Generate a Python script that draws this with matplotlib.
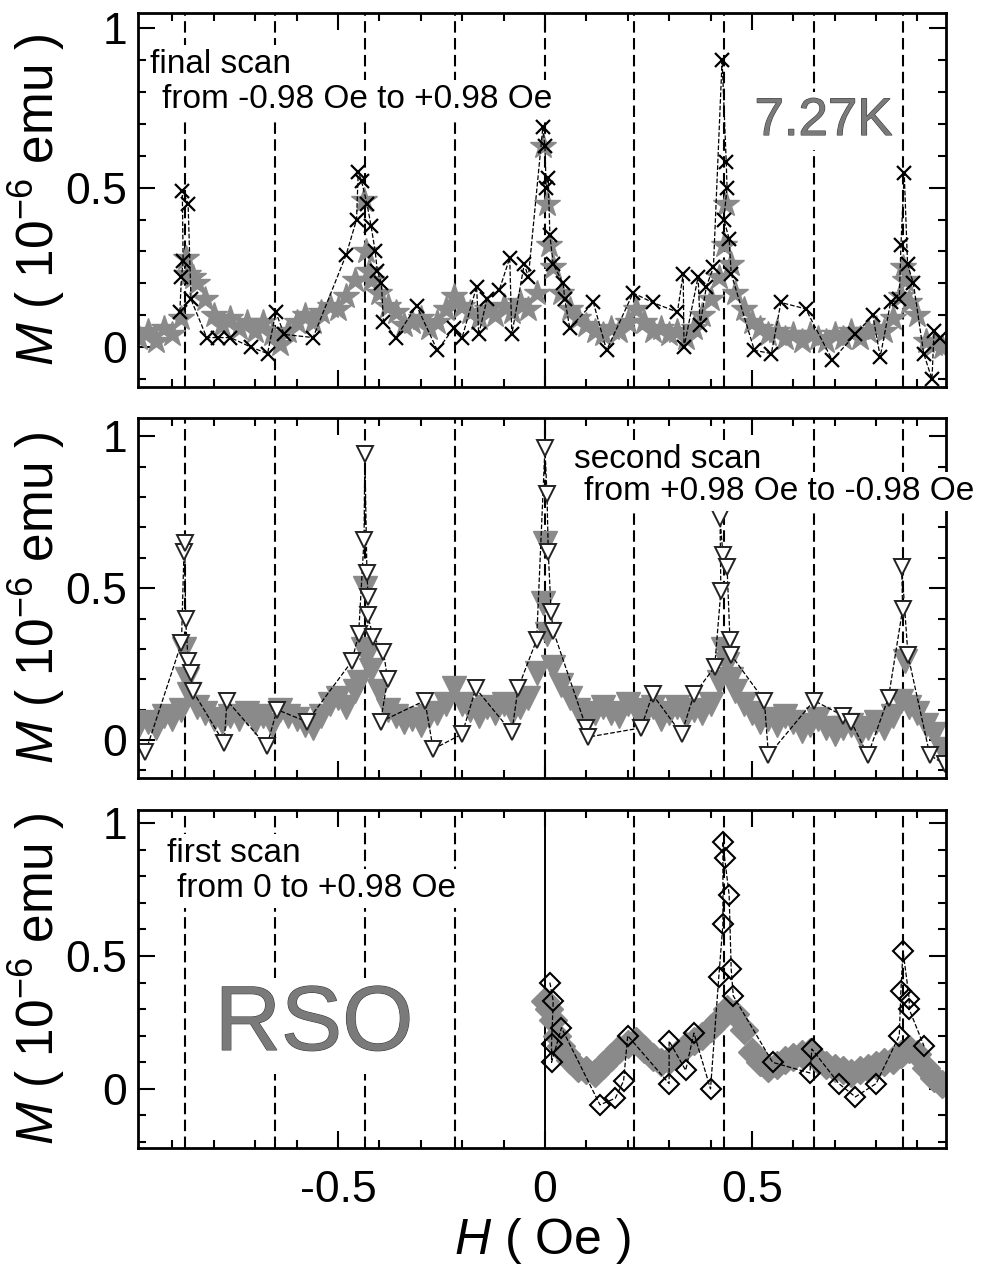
import matplotlib
matplotlib.use("Agg")
import matplotlib.pyplot as plt
import matplotlib.patheffects as pe
from matplotlib.ticker import MultipleLocator

plt.rcParams["font.family"] = ["Liberation Sans", "DejaVu Sans"]
plt.rcParams["mathtext.fontset"] = "custom"
plt.rcParams["mathtext.rm"] = "Liberation Sans"
plt.rcParams["mathtext.it"] = "Liberation Sans:italic"

# dashed guide lines (Oe)
guide_h = [-0.870, -0.652, -0.435, -0.217, 0.0, 0.214, 0.432, 0.649, 0.866]

x_ticks = [-0.5, 0, 0.5]
x_ticklabels = ["-0.5", "0", "0.5"]
y_ticks = [0, 0.5, 1]
y_ticklabels = ["0", "0.5", "1"]

# ---- final scan (top), gray stars
h_final_gray = [-0.98, -0.96, -0.94, -0.92, -0.90, -0.88, -0.866, -0.862, -0.85, -0.84,
                -0.82, -0.80, -0.78, -0.76, -0.74, -0.72, -0.70, -0.68, -0.66, -0.64,
                -0.62, -0.60, -0.58, -0.56, -0.54, -0.52, -0.50, -0.48, -0.46, -0.437,
                -0.432, -0.425, -0.42, -0.40, -0.38, -0.36, -0.34, -0.32, -0.30, -0.28,
                -0.26, -0.24, -0.22, -0.20, -0.18, -0.16, -0.14, -0.12, -0.10, -0.08,
                -0.06, -0.04, -0.02, -0.005, 0.005, 0.01, 0.02, 0.04, 0.06, 0.08,
                0.10, 0.12, 0.14, 0.16, 0.18, 0.20, 0.22, 0.24, 0.26, 0.28,
                0.30, 0.32, 0.34, 0.36, 0.38, 0.40, 0.42, 0.432, 0.437, 0.45,
                0.46, 0.48, 0.50, 0.52, 0.54, 0.56, 0.58, 0.60, 0.62, 0.64,
                0.66, 0.68, 0.70, 0.72, 0.74, 0.76, 0.78, 0.80, 0.82, 0.84,
                0.86, 0.866, 0.87, 0.88, 0.90, 0.92, 0.94, 0.96]
m_final_gray = [0.03, 0.05, 0.02, 0.06, 0.04, 0.09, 0.28, 0.23, 0.22, 0.20,
                0.15, 0.10, 0.07, 0.09, 0.06, 0.08, 0.05, 0.08, 0.04, 0.01,
                0.05, 0.08, 0.10, 0.08, 0.11, 0.13, 0.12, 0.16, 0.21, 0.46,
                0.30, 0.24, 0.21, 0.17, 0.13, 0.11, 0.07, 0.08, 0.09, 0.06,
                0.08, 0.12, 0.16, 0.13, 0.11, 0.09, 0.12, 0.10, 0.13, 0.11,
                0.14, 0.12, 0.17, 0.63, 0.45, 0.32, 0.25, 0.17, 0.12, 0.09,
                0.07, 0.05, 0.04, 0.06, 0.05, 0.08, 0.12, 0.08, 0.05, 0.06,
                0.04, 0.05, 0.03, 0.06, 0.10, 0.15, 0.22, 0.32, 0.45, 0.26,
                0.17, 0.12, 0.08, 0.06, 0.04, 0.05, 0.03, 0.04, 0.02, 0.04,
                0.03, 0.02, 0.04, 0.03, 0.05, 0.03, 0.05, 0.06, 0.05, 0.09,
                0.16, 0.25, 0.21, 0.14, 0.10, 0.02, 0.01, 0.00]

# final scan, black crosses
h_final_x = [-0.882, -0.878, -0.874, -0.876, -0.862, -0.855, -0.817, -0.79, -0.76, -0.71,
             -0.67, -0.65, -0.63, -0.56, -0.48, -0.455, -0.451, -0.443, -0.43, -0.42,
             -0.41, -0.405, -0.395, -0.39, -0.36, -0.31, -0.26, -0.22, -0.20, -0.165,
             -0.16, -0.14, -0.11, -0.085, -0.08, -0.05, -0.04, -0.005, 0.0, 0.003,
             0.008, 0.012, 0.02, 0.044, 0.048, 0.06, 0.117, 0.149, 0.213, 0.26,
             0.32, 0.334, 0.336, 0.37, 0.375, 0.39, 0.407, 0.428, 0.438, 0.44,
             0.432, 0.445, 0.45, 0.506, 0.547, 0.57, 0.63, 0.694, 0.75, 0.792,
             0.81, 0.835, 0.856, 0.86, 0.868, 0.876, 0.89, 0.915, 0.935, 0.94, 0.955]
m_final_x = [0.11, 0.22, 0.27, 0.49, 0.45, 0.15, 0.03, 0.03, 0.03, 0.00,
             -0.02, 0.11, 0.04, 0.03, 0.29, 0.40, 0.55, 0.52, 0.45, 0.38,
             0.30, 0.24, 0.20, 0.08, 0.03, 0.13, -0.01, 0.06, 0.03, 0.19,
             0.04, 0.15, 0.18, 0.28, 0.04, 0.26, 0.22, 0.69, 0.63, 0.50,
             0.53, 0.35, 0.26, 0.20, 0.15, 0.06, 0.14, -0.01, 0.17, 0.14,
             0.11, 0.23, 0.00, 0.22, 0.07, 0.19, 0.25, 0.90, 0.58, 0.50,
             0.40, 0.34, 0.23, -0.01, -0.02, 0.14, 0.12, -0.04, 0.04, 0.10,
             -0.03, 0.14, 0.15, 0.32, 0.545, 0.26, 0.20, -0.02, -0.10, 0.05, 0.03]

# ---- second scan (middle), gray triangles
h_second_gray = [-0.98, -0.96, -0.94, -0.92, -0.90, -0.88, -0.872, -0.865, -0.86, -0.84,
                 -0.82, -0.80, -0.78, -0.76, -0.74, -0.72, -0.70, -0.68, -0.66, -0.64,
                 -0.62, -0.60, -0.58, -0.56, -0.54, -0.52, -0.50, -0.48, -0.46, -0.45,
                 -0.44, -0.435, -0.43, -0.42, -0.40, -0.38, -0.36, -0.34, -0.32, -0.30,
                 -0.28, -0.26, -0.24, -0.22, -0.20, -0.18, -0.16, -0.14, -0.12, -0.10,
                 -0.08, -0.06, -0.04, -0.02, -0.005, 0.0, 0.005, 0.02, 0.04, 0.06,
                 0.08, 0.10, 0.12, 0.14, 0.16, 0.18, 0.20, 0.22, 0.24, 0.26,
                 0.28, 0.30, 0.32, 0.34, 0.36, 0.38, 0.40, 0.42, 0.43, 0.44,
                 0.45, 0.46, 0.48, 0.50, 0.52, 0.54, 0.56, 0.58, 0.60, 0.62,
                 0.64, 0.66, 0.68, 0.70, 0.72, 0.74, 0.76, 0.78, 0.80, 0.82,
                 0.84, 0.86, 0.87, 0.88, 0.90, 0.92, 0.94, 0.96]
m_second_gray = [0.05, 0.06, 0.04, 0.08, 0.07, 0.10, 0.30, 0.20, 0.15, 0.11,
                 0.09, 0.07, 0.06, 0.08, 0.07, 0.09, 0.06, 0.08, 0.05, 0.10,
                 0.08, 0.07, 0.05, 0.04, 0.08, 0.12, 0.14, 0.11, 0.16, 0.19,
                 0.30, 0.50, 0.28, 0.23, 0.16, 0.10, 0.08, 0.06, 0.07, 0.05,
                 0.08, 0.09, 0.12, 0.17, 0.12, 0.10, 0.08, 0.11, 0.09, 0.12,
                 0.09, 0.11, 0.14, 0.22, 0.45, 0.65, 0.35, 0.24, 0.18, 0.14,
                 0.10, 0.07, 0.09, 0.11, 0.09, 0.08, 0.12, 0.10, 0.08, 0.11,
                 0.07, 0.09, 0.11, 0.08, 0.10, 0.09, 0.12, 0.19, 0.30, 0.25,
                 0.20, 0.16, 0.12, 0.09, 0.06, 0.07, 0.05, 0.08, 0.06, 0.03,
                 0.05, 0.07, 0.04, 0.02, 0.04, 0.05, 0.02, 0.04, 0.06, 0.04,
                 0.08, 0.13, 0.26, 0.11, 0.09, 0.05, 0.02, -0.03]

# second scan, black open triangles
h_second_v = [-0.965, -0.878, -0.872, -0.870, -0.868, -0.862, -0.856, -0.85, -0.775, -0.768,
              -0.672, -0.647, -0.575, -0.466, -0.45, -0.437, -0.435, -0.43, -0.427, -0.428,
              -0.415, -0.39, -0.38, -0.397, -0.29, -0.27, -0.20, -0.167, -0.08, -0.065,
              -0.02, 0.0, 0.005, 0.008, 0.015, 0.02, 0.10, 0.105, 0.232, 0.26,
              0.33, 0.36, 0.41, 0.425, 0.423, 0.43, 0.44, 0.447, 0.45, 0.53,
              0.54, 0.65, 0.72, 0.74, 0.78, 0.83, 0.864, 0.862, 0.877, 0.93, 0.966]
m_second_v = [-0.04, 0.32, 0.62, 0.65, 0.40, 0.26, 0.22, 0.16, -0.01, 0.13,
              -0.02, 0.10, 0.06, 0.26, 0.35, 0.66, 0.94, 0.55, 0.47, 0.41,
              0.34, 0.29, 0.20, 0.06, 0.13, -0.03, 0.02, 0.17, 0.025, 0.17,
              0.33, 0.96, 0.81, 0.62, 0.42, 0.36, 0.04, 0.01, 0.04, 0.15,
              0.02, 0.15, 0.24, 0.49, 0.73, 0.61, 0.57, 0.33, 0.28, 0.13,
              -0.05, 0.13, 0.08, 0.06, -0.05, 0.14, 0.43, 0.57, 0.28, -0.05, -0.08]

# ---- first scan (bottom), gray diamonds
h_first_gray = [0.0, 0.01, 0.02, 0.03, 0.04, 0.05, 0.06, 0.08, 0.10, 0.12,
                0.14, 0.16, 0.18, 0.20, 0.22, 0.24, 0.26, 0.28, 0.30, 0.32,
                0.34, 0.36, 0.38, 0.40, 0.42, 0.44, 0.46, 0.48, 0.50, 0.52,
                0.54, 0.56, 0.58, 0.60, 0.62, 0.64, 0.66, 0.68, 0.70, 0.72,
                0.74, 0.76, 0.78, 0.80, 0.82, 0.84, 0.86, 0.88, 0.90, 0.92,
                0.94, 0.96]
m_first_gray = [0.33, 0.30, 0.26, 0.20, 0.16, 0.13, 0.11, 0.08, 0.07, 0.06,
                0.09, 0.12, 0.15, 0.17, 0.18, 0.15, 0.12, 0.10, 0.11, 0.13,
                0.16, 0.18, 0.20, 0.23, 0.26, 0.30, 0.28, 0.22, 0.14, 0.10,
                0.08, 0.09, 0.11, 0.12, 0.13, 0.14, 0.11, 0.09, 0.08, 0.07,
                0.06, 0.07, 0.08, 0.09, 0.10, 0.11, 0.13, 0.15, 0.13, 0.08,
                0.04, 0.02]

# first scan, black open diamonds
h_first_d = [0.012, 0.02, 0.016, 0.016, 0.04, 0.133, 0.17, 0.19, 0.20, 0.30,
             0.30, 0.34, 0.36, 0.40, 0.42, 0.43, 0.43, 0.434, 0.445, 0.45,
             0.455, 0.55, 0.64, 0.645, 0.71, 0.75, 0.80, 0.856, 0.86, 0.865,
             0.88, 0.88, 0.916]
m_first_d = [0.40, 0.33, 0.17, 0.10, 0.23, -0.06, -0.035, 0.03, 0.20, 0.02,
             0.18, 0.07, 0.21, 0.00, 0.42, 0.62, 0.93, 0.87, 0.73, 0.45,
             0.35, 0.10, 0.06, 0.15, 0.02, -0.03, 0.02, 0.20, 0.37, 0.52,
             0.34, 0.30, 0.16]

gray = "#8a8a8a"

fig = plt.figure(figsize=(9.95, 12.69), dpi=100)
ax_top = fig.add_axes([0.1387, 0.6950, 0.8121, 0.2947])
ax_mid = fig.add_axes([0.1387, 0.3869, 0.8121, 0.2837])
ax_bot = fig.add_axes([0.1387, 0.0954, 0.8121, 0.2663])


def style(ax, ylim, show_x):
    ax.set_xlim(-0.983, 0.969)
    ax.set_ylim(*ylim)
    ax.set_xticks(x_ticks)
    ax.set_xticklabels(x_ticklabels)
    ax.set_yticks(y_ticks)
    ax.set_yticklabels(y_ticklabels)
    ax.xaxis.set_minor_locator(MultipleLocator(0.1))
    ax.yaxis.set_minor_locator(MultipleLocator(0.1))
    ax.tick_params(which="both", direction="in", top=True, right=True, width=1.5)
    ax.tick_params(which="major", length=12)
    ax.tick_params(which="minor", length=6)
    ax.tick_params(axis="y", labelsize=32, pad=8)
    ax.tick_params(axis="x", labelsize=32, pad=16, labelbottom=show_x)
    for s in ax.spines.values():
        s.set_linewidth(2)
    ax.set_ylabel(r"$M$ ( 10$^{-6}$ emu )", fontsize=37)
    ax.yaxis.set_label_coords(-0.088, 0.5)


def guides(ax, solid_zero=False):
    for h in guide_h:
        if solid_zero and h == 0.0:
            ax.axvline(h, color="black", lw=1.4, zorder=1)
        else:
            ax.axvline(h, color="black", lw=1.5, ls=(0, (5.5, 2.6)), zorder=1)


box = dict(facecolor="white", edgecolor="none", pad=3)
outline = [pe.withStroke(linewidth=0.8, foreground="#3a3a3a")]

# top
style(ax_top, (-0.125, 1.047), False)
guides(ax_top)
ax_top.plot(h_final_gray, m_final_gray, ls="none", marker="*", ms=19,
            color=gray, mec=gray, zorder=2)
ax_top.plot(h_final_x, m_final_x, ls="--", lw=0.9, color="black",
            marker="x", ms=10, mew=1.6, zorder=2.2)
ax_top.text(0.015, 0.840, "final scan", transform=ax_top.transAxes, fontsize=24,
            va="baseline", bbox=box, zorder=4)
ax_top.text(0.030, 0.746, "from -0.98 Oe to +0.98 Oe", transform=ax_top.transAxes,
            fontsize=24, va="baseline", bbox=box, zorder=4)
ax_top.text(0.763, 0.674, "7.27K", transform=ax_top.transAxes, fontsize=38,
            va="baseline", color="#7a7a7a", path_effects=outline, bbox=box, zorder=4)

# middle
style(ax_mid, (-0.125, 1.06), False)
guides(ax_mid)
ax_mid.plot(h_second_gray, m_second_gray, ls="none", marker="v", ms=17,
            color=gray, mec=gray, zorder=2)
ax_mid.plot(h_second_v, m_second_v, ls="--", lw=0.9, color="black",
            marker="v", ms=11, mfc="white", mec="#222222", mew=1.4, zorder=2.2)
ax_mid.text(0.540, 0.861, "second scan", transform=ax_mid.transAxes, fontsize=24,
            va="baseline", bbox=box, zorder=4)
ax_mid.text(0.5525, 0.772, "from +0.98 Oe to -0.98 Oe", transform=ax_mid.transAxes,
            fontsize=24, va="baseline", bbox=box, zorder=4)

# bottom
style(ax_bot, (-0.222, 1.049), True)
guides(ax_bot, solid_zero=True)
ax_bot.plot(h_first_gray, m_first_gray, ls="none", marker="D", ms=14,
            color=gray, mec=gray, zorder=2)
ax_bot.plot(h_first_d, m_first_d, ls="--", lw=0.9, color="black",
            marker="D", ms=10, mfc="none", mec="black", mew=1.5, zorder=2.2)
ax_bot.text(0.036, 0.846, "first scan", transform=ax_bot.transAxes, fontsize=24,
            va="baseline", bbox=box, zorder=4)
ax_bot.text(0.048, 0.743, "from 0 to +0.98 Oe", transform=ax_bot.transAxes,
            fontsize=24, va="baseline", bbox=box, zorder=4)
ax_bot.text(0.095, 0.29, "RSO", transform=ax_bot.transAxes, fontsize=66,
            va="baseline", color="#7a7a7a", path_effects=outline, bbox=box, zorder=4)
ax_bot.set_xlabel(r"$H$ ( Oe )", fontsize=36)
ax_bot.xaxis.set_label_coords(0.5, -0.2)

fig.savefig("out.png", dpi=100)
